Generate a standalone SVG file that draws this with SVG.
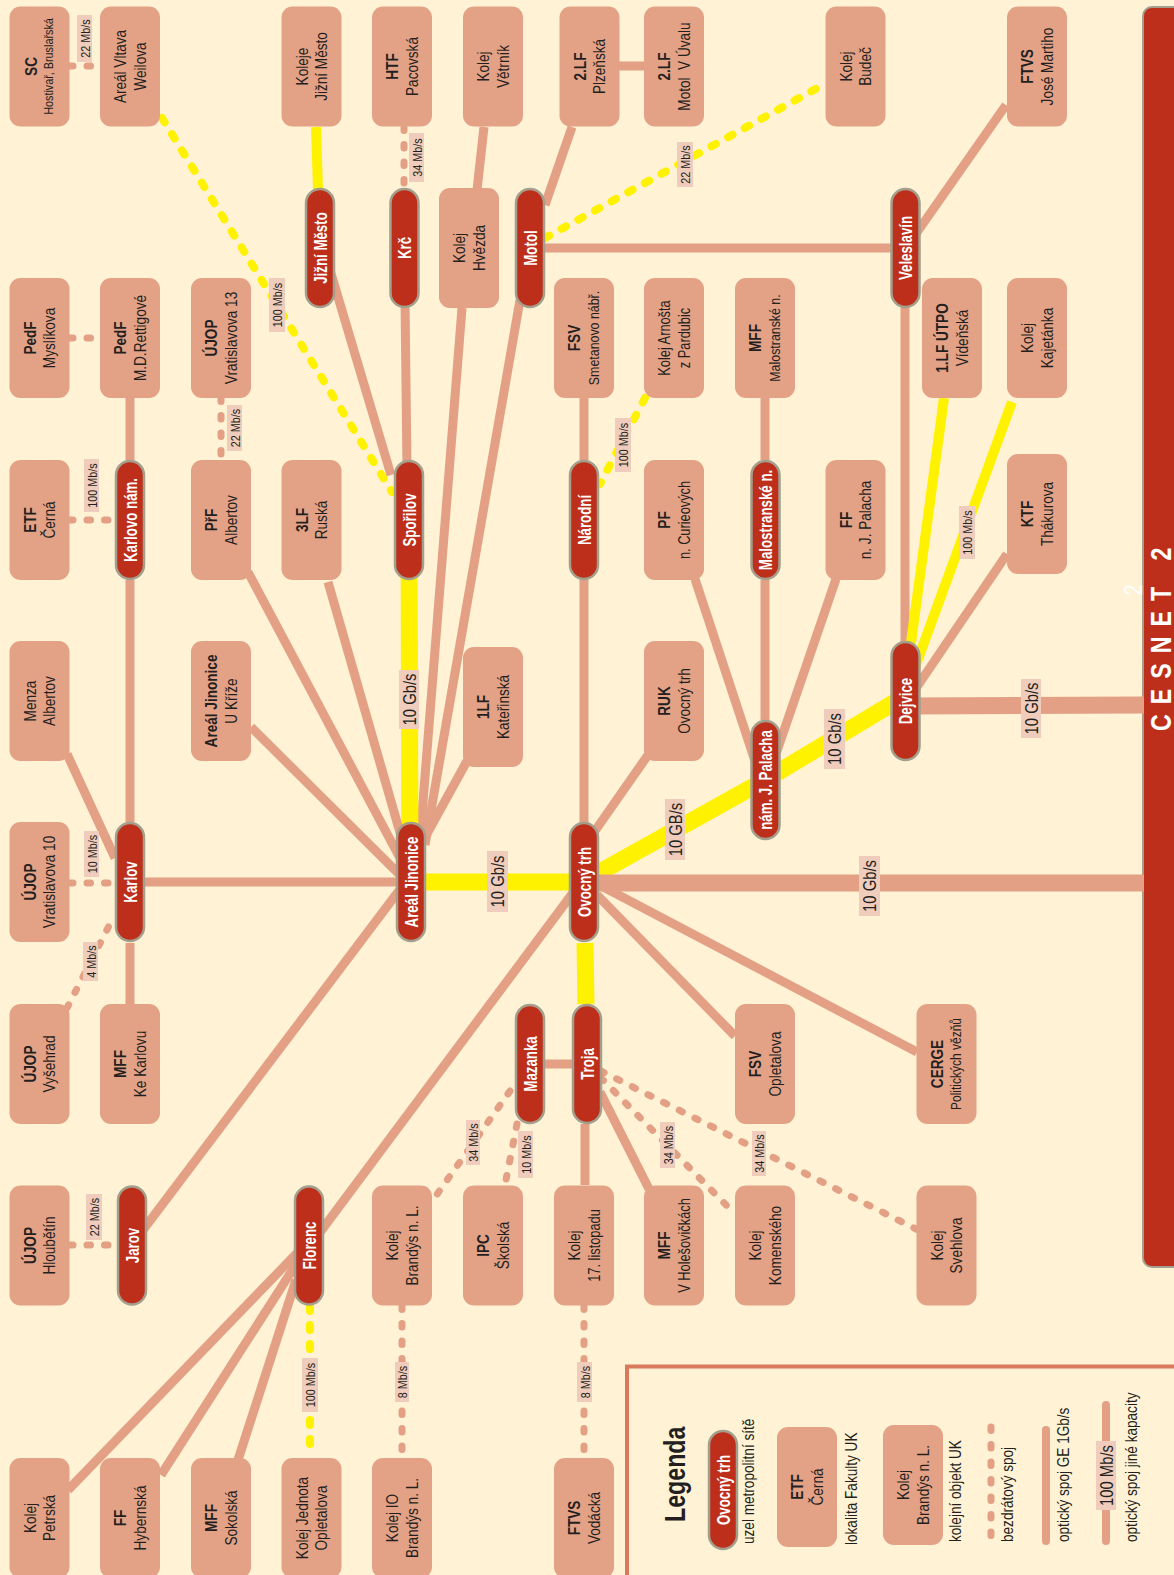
<svg xmlns="http://www.w3.org/2000/svg" width="1174" height="1575" viewBox="0 0 1174 1575">
<style>
.nt{font-family:"Liberation Sans",Arial,sans-serif;font-size:17px;fill:#231F20;text-anchor:middle}
.b{font-weight:bold}
.s135{font-size:13.5px}
.s15{font-size:15px}
.s155{font-size:15.5px}
.s16{font-size:16px}
.nb{fill:#E3A186}
.pb{fill:#BD2F1B;stroke:#A39F8C;stroke-width:2.5}
.pt{font-family:"Liberation Sans",Arial,sans-serif;font-size:19px;font-weight:bold;fill:#fff;text-anchor:middle}
.e{stroke:#E3A085;stroke-width:9;fill:none}
.et{stroke:#E3A085;stroke-width:17;fill:none}
.ed{stroke:#E3A085;stroke-width:7;stroke-dasharray:3.5 14;stroke-linecap:round;fill:none}
.y{stroke:#FFF200;stroke-width:10;fill:none}
.yt{stroke:#FFF200;stroke-width:17;fill:none}
.yd{stroke:#FFF200;stroke-width:8;stroke-dasharray:5 14;stroke-linecap:round;fill:none}
.lb{fill:#EFCCBB}
.lt{font-family:"Liberation Sans",Arial,sans-serif;font-size:13.5px;fill:#231F20;text-anchor:middle}
.lt2{font-size:18.5px}
.lg{font-family:"Liberation Sans",Arial,sans-serif;font-size:17px;fill:#231F20;text-anchor:start}
</style>
<rect x="0" y="0" width="1174" height="1575" fill="#FFF2D5"/>

<!-- CESNET bar -->
<g id="cesnet">
<rect x="1143" y="7" width="60" height="1260" rx="9" fill="#BD2F1B" stroke="#A39F8C" stroke-width="2"/>
<text transform="translate(1170.5,731) rotate(-90) scale(.8,1)" font-family="Liberation Sans,Arial,sans-serif" font-size="29" font-weight="bold" fill="#fff" letter-spacing="12.5">CESNET 2</text>
<text transform="translate(1142,590) rotate(-90) scale(.8,1)" font-family="Liberation Sans,Arial,sans-serif" font-size="25" fill="#fff" text-anchor="middle">2</text>
</g>

<g id="connectors">
<line class="ed" x1="69.5" y1="66" x2="100" y2="66"/>
<line class="yd" x1="162" y1="118" x2="392" y2="492"/>
<line class="y" x1="316" y1="127" x2="318" y2="190"/>
<line class="e" x1="324" y1="250" x2="391" y2="475"/>
<line class="ed" x1="404" y1="127" x2="404" y2="188"/>
<line class="e" x1="405" y1="300" x2="407" y2="470"/>
<line class="e" x1="484" y1="127" x2="477" y2="190"/>
<line class="e" x1="462" y1="308" x2="420" y2="840"/>
<line class="e" x1="572" y1="127" x2="545" y2="205"/>
<line class="e" x1="619" y1="66" x2="645" y2="66"/>
<line class="yd" x1="545" y1="238" x2="821" y2="86"/>
<line class="e" x1="530" y1="248" x2="905" y2="248"/>
<line class="e" x1="520" y1="300" x2="425" y2="845"/>
<line class="e" x1="906" y1="248" x2="1006" y2="105"/>
<line class="e" x1="905" y1="300" x2="905" y2="650"/>
<line class="y" x1="944" y1="398" x2="910" y2="650"/>
<line class="y" x1="1012" y1="402" x2="914" y2="670"/>
<line class="e" x1="1007" y1="554" x2="908" y2="700"/>
<line class="et" x1="905" y1="706" x2="1144" y2="705"/>
<line class="e" x1="836" y1="579" x2="767" y2="780"/>
<line class="e" x1="765" y1="580" x2="765" y2="720"/>
<line class="e" x1="765" y1="398" x2="765" y2="460"/>
<line class="e" x1="695" y1="579" x2="758" y2="770"/>
<line class="yt" x1="905" y1="696" x2="765" y2="780"/>
<line class="yt" x1="765" y1="780" x2="584" y2="881"/>
<line class="et" x1="584" y1="883" x2="1144" y2="883"/>
<line class="yt" x1="411" y1="882" x2="584" y2="882"/>
<line class="yt" x1="409" y1="520" x2="410" y2="882"/>
<line class="e" x1="584" y1="520" x2="584" y2="882"/>
<line class="e" x1="584" y1="398" x2="584" y2="460"/>
<line class="yd" x1="645" y1="398" x2="600" y2="484"/>
<line class="e" x1="648" y1="755" x2="590" y2="838"/>
<line class="e" x1="467" y1="761" x2="418" y2="850"/>
<line class="e" x1="248" y1="572" x2="401" y2="860"/>
<line class="e" x1="328" y1="582" x2="405" y2="850"/>
<line class="e" x1="251" y1="727" x2="400" y2="875"/>
<line class="e" x1="130" y1="398" x2="130" y2="460"/>
<line class="ed" x1="69.5" y1="520" x2="115" y2="520"/>
<line class="ed" x1="69.5" y1="338" x2="100" y2="338"/>
<line class="ed" x1="221" y1="398" x2="221" y2="460"/>
<line class="e" x1="130" y1="580" x2="130" y2="822"/>
<line class="e" x1="67" y1="754" x2="115" y2="858"/>
<line class="e" x1="130" y1="882" x2="411" y2="882"/>
<line class="ed" x1="69.5" y1="883" x2="115" y2="883"/>
<line class="ed" x1="67" y1="1008" x2="113" y2="918"/>
<line class="e" x1="130" y1="943" x2="130" y2="1004"/>
<line class="e" x1="407" y1="880" x2="143" y2="1230"/>
<line class="e" x1="575" y1="890" x2="318" y2="1235"/>
<line class="e" x1="300" y1="1250" x2="68" y2="1490"/>
<line class="e" x1="302" y1="1255" x2="161" y2="1475"/>
<line class="e" x1="296" y1="1280" x2="238" y2="1460"/>
<line class="yd" x1="310" y1="1306" x2="310" y2="1458"/>
<line class="ed" x1="69.5" y1="1245" x2="117" y2="1245"/>
<line class="yt" x1="585" y1="943" x2="586" y2="1004"/>
<line class="e" x1="544" y1="1064" x2="572" y2="1064"/>
<line class="e" x1="597" y1="895" x2="735" y2="1036"/>
<line class="e" x1="590" y1="880" x2="917" y2="1052"/>
<line class="e" x1="585" y1="1124" x2="585" y2="1185"/>
<line class="e" x1="600" y1="1092" x2="649" y2="1189"/>
<line class="ed" x1="601" y1="1078" x2="735" y2="1214"/>
<line class="ed" x1="601" y1="1071" x2="916" y2="1229"/>
<line class="ed" x1="510" y1="1091" x2="433" y2="1200"/>
<line class="ed" x1="517" y1="1124" x2="505" y2="1185"/>
<line class="ed" x1="402" y1="1306" x2="402" y2="1458"/>
<line class="ed" x1="584" y1="1306" x2="584" y2="1458"/>

<!-- labels -->
<rect class="lb" x="77" y="15" width="15" height="47"/><text class="lt" transform="translate(84.5,38.5) rotate(-90) scale(.8,1)" y="5">22 Mb/s</text>
<rect class="lb" x="269" y="278" width="16" height="54"/><text class="lt" transform="translate(277,305) rotate(-90) scale(.8,1)" y="5">100 Mb/s</text>
<rect class="lb" x="409" y="133" width="15" height="49"/><text class="lt" transform="translate(416.5,157.5) rotate(-90) scale(.8,1)" y="5">34 Mb/s</text>
<rect class="lb" x="677" y="142" width="16" height="45"/><text class="lt" transform="translate(685,164.5) rotate(-90) scale(.8,1)" y="5">22 Mb/s</text>
<rect class="lb" x="959" y="506" width="16" height="53"/><text class="lt" transform="translate(967,532.5) rotate(-90) scale(.8,1)" y="5">100 Mb/s</text>
<rect class="lb" x="1021" y="679" width="20" height="59"/><text class="lt lt2" transform="translate(1031,708.5) rotate(-90) scale(.8,1)" y="6.5">10 Gb/s</text>
<rect class="lb" x="824" y="709" width="21" height="60"/><text class="lt lt2" transform="translate(834.5,739) rotate(-90) scale(.8,1)" y="6.5">10 Gb/s</text>
<rect class="lb" x="665" y="799" width="20" height="61"/><text class="lt lt2" transform="translate(675,829.5) rotate(-90) scale(.8,1)" y="6.5">10 GB/s</text>
<rect class="lb" x="859" y="856" width="21" height="60"/><text class="lt lt2" transform="translate(869.5,886) rotate(-90) scale(.8,1)" y="6.5">10 Gb/s</text>
<rect class="lb" x="487" y="851" width="21" height="61"/><text class="lt lt2" transform="translate(497.5,881.5) rotate(-90) scale(.8,1)" y="6.5">10 Gb/s</text>
<rect class="lb" x="399" y="670" width="20" height="59"/><text class="lt lt2" transform="translate(409,699.5) rotate(-90) scale(.8,1)" y="6.5">10 Gb/s</text>
<rect class="lb" x="615" y="418" width="16" height="54"/><text class="lt" transform="translate(623,445) rotate(-90) scale(.8,1)" y="5">100 Mb/s</text>
<rect class="lb" x="84" y="459" width="15" height="53"/><text class="lt" transform="translate(91.5,485.5) rotate(-90) scale(.8,1)" y="5">100 Mb/s</text>
<rect class="lb" x="227" y="405" width="15" height="46"/><text class="lt" transform="translate(234.5,428) rotate(-90) scale(.8,1)" y="5">22 Mb/s</text>
<rect class="lb" x="84" y="831" width="15" height="46"/><text class="lt" transform="translate(91.5,854) rotate(-90) scale(.8,1)" y="5">10 Mb/s</text>
<rect class="lb" x="83" y="942" width="15" height="39"/><text class="lt" transform="translate(90.5,961.5) rotate(-90) scale(.8,1)" y="5">4 Mb/s</text>
<rect class="lb" x="302" y="1358" width="16" height="54"/><text class="lt" transform="translate(310,1385) rotate(-90) scale(.8,1)" y="5">100 Mb/s</text>
<rect class="lb" x="86" y="1194" width="16" height="46"/><text class="lt" transform="translate(94,1217) rotate(-90) scale(.8,1)" y="5">22 Mb/s</text>
<rect class="lb" x="660" y="1122" width="15" height="46"/><text class="lt" transform="translate(667.5,1145) rotate(-90) scale(.8,1)" y="5">34 Mb/s</text>
<rect class="lb" x="752" y="1131" width="14" height="45"/><text class="lt" transform="translate(759,1153.5) rotate(-90) scale(.8,1)" y="5">34 Mb/s</text>
<rect class="lb" x="466" y="1120" width="14" height="45"/><text class="lt" transform="translate(473,1142.5) rotate(-90) scale(.8,1)" y="5">34 Mb/s</text>
<rect class="lb" x="518" y="1131" width="15" height="47"/><text class="lt" transform="translate(525.5,1154.5) rotate(-90) scale(.8,1)" y="5">10 Mb/s</text>
<rect class="lb" x="395" y="1362" width="14" height="40"/><text class="lt" transform="translate(402,1382) rotate(-90) scale(.8,1)" y="5">8 Mb/s</text>
<rect class="lb" x="577" y="1362" width="15" height="40"/><text class="lt" transform="translate(584.5,1382) rotate(-90) scale(.8,1)" y="5">8 Mb/s</text>
</g>

<!-- nodes row 1 -->
<g id="n-sc"><rect class="nb" x="9.5" y="6.5" width="60" height="120" rx="11"/><text class="nt" transform="translate(39.5,66.5) rotate(-90) scale(.8,1)"><tspan class="b" x="0" y="-3">SC</tspan><tspan class="s135" x="0" y="14">Hostivař, Bruslařská</tspan></text></g>
<g id="n-vltava"><rect class="nb" x="100" y="6.5" width="60" height="120" rx="11"/><text class="nt" transform="translate(130,66.5) rotate(-90) scale(.8,1)"><tspan x="0" y="-4">Areál Vltava</tspan><tspan x="0" y="16">Weilova</tspan></text></g>
<g id="n-kjm"><rect class="nb" x="281.5" y="6.5" width="60" height="120" rx="11"/><text class="nt" transform="translate(311.5,66.5) rotate(-90) scale(.8,1)"><tspan x="0" y="-4">Koleje</tspan><tspan x="0" y="16">Jižní Město</tspan></text></g>
<g id="n-htf"><rect class="nb" x="372" y="6.5" width="60" height="120" rx="11"/><text class="nt" transform="translate(402,66.5) rotate(-90) scale(.8,1)"><tspan class="b" x="0" y="-4">HTF</tspan><tspan x="0" y="16">Pacovská</tspan></text></g>
<g id="n-vetrnik"><rect class="nb" x="463" y="6.5" width="60" height="120" rx="11"/><text class="nt" transform="translate(493,66.5) rotate(-90) scale(.8,1)"><tspan x="0" y="-4">Kolej</tspan><tspan x="0" y="16">Větrník</tspan></text></g>
<g id="n-2lfp"><rect class="nb" x="559.5" y="6.5" width="60" height="120" rx="11"/><text class="nt" transform="translate(589.5,66.5) rotate(-90) scale(.8,1)"><tspan class="b" x="0" y="-4">2.LF</tspan><tspan x="0" y="16">Plzeňská</tspan></text></g>
<g id="n-2lfm"><rect class="nb" x="644" y="6.5" width="60" height="120" rx="11"/><text class="nt" transform="translate(674,66.5) rotate(-90) scale(.8,1)"><tspan class="b" x="0" y="-4">2.LF</tspan><tspan x="0" y="16">Motol&#160; V Úvalu</tspan></text></g>
<g id="n-budec"><rect class="nb" x="825.5" y="6.5" width="60" height="120" rx="11"/><text class="nt" transform="translate(855.5,66.5) rotate(-90) scale(.8,1)"><tspan x="0" y="-4">Kolej</tspan><tspan x="0" y="16">Budeč</tspan></text></g>
<g id="n-ftvsjm"><rect class="nb" x="1007" y="6.5" width="60" height="120" rx="11"/><text class="nt" transform="translate(1037,66.5) rotate(-90) scale(.8,1)"><tspan class="b" x="0" y="-4">FTVS</tspan><tspan x="0" y="16">José Martiho</tspan></text></g>
<g id="n-hvezda"><rect class="nb" x="439" y="188" width="60" height="120" rx="11"/><text class="nt" transform="translate(469,248) rotate(-90) scale(.8,1)"><tspan x="0" y="-4">Kolej</tspan><tspan x="0" y="16">Hvězda</tspan></text></g>

<!-- row 2 -->
<g id="n-pedfm"><rect class="nb" x="9.5" y="278" width="60" height="120" rx="11"/><text class="nt" transform="translate(39.5,338) rotate(-90) scale(.8,1)"><tspan class="b" x="0" y="-4">PedF</tspan><tspan x="0" y="16">Myslíkova</tspan></text></g>
<g id="n-pedfr"><rect class="nb" x="100" y="278" width="60" height="120" rx="11"/><text class="nt" transform="translate(130,338) rotate(-90) scale(.8,1)"><tspan class="b" x="0" y="-4">PedF</tspan><tspan x="0" y="16">M.D.Rettigové</tspan></text></g>
<g id="n-ujop13"><rect class="nb" x="191" y="278" width="60" height="120" rx="11"/><text class="nt" transform="translate(221,338) rotate(-90) scale(.8,1)"><tspan class="b" x="0" y="-4">ÚJOP</tspan><tspan x="0" y="16">Vratislavova 13</tspan></text></g>
<g id="n-fsvs"><rect class="nb" x="554" y="278" width="60" height="120" rx="11"/><text class="nt" transform="translate(584,338) rotate(-90) scale(.8,1)"><tspan class="b" x="0" y="-4">FSV</tspan><tspan class="s155" x="0" y="15">Smetanovo nábř.</tspan></text></g>
<g id="n-arnost"><rect class="nb" x="644" y="278" width="60" height="120" rx="11"/><text class="nt s16" transform="translate(674,338) rotate(-90) scale(.8,1)"><tspan x="0" y="-4">Kolej Arnošta</tspan><tspan x="0" y="16">z Pardubic</tspan></text></g>
<g id="n-mffm"><rect class="nb" x="735" y="278" width="60" height="120" rx="11"/><text class="nt" transform="translate(765,338) rotate(-90) scale(.8,1)"><tspan class="b" x="0" y="-4">MFF</tspan><tspan class="s155" x="0" y="15">Malostranské n.</tspan></text></g>
<g id="n-1lfu"><rect class="nb" x="922" y="278" width="60" height="120" rx="11"/><text class="nt" transform="translate(952,338) rotate(-90) scale(.8,1)"><tspan class="b" x="0" y="-4">1.LF ÚTPO</tspan><tspan x="0" y="16">Vídeňská</tspan></text></g>
<g id="n-kajet"><rect class="nb" x="1007" y="278" width="60" height="120" rx="11"/><text class="nt" transform="translate(1037,338) rotate(-90) scale(.8,1)"><tspan x="0" y="-4">Kolej</tspan><tspan x="0" y="16">Kajetánka</tspan></text></g>

<!-- row 3 -->
<g id="n-etf"><rect class="nb" x="9.5" y="460" width="60" height="120" rx="11"/><text class="nt" transform="translate(39.5,520) rotate(-90) scale(.8,1)"><tspan class="b" x="0" y="-4">ETF</tspan><tspan x="0" y="16">Černá</tspan></text></g>
<g id="n-prf"><rect class="nb" x="191" y="460" width="60" height="120" rx="11"/><text class="nt" transform="translate(221,520) rotate(-90) scale(.8,1)"><tspan class="b" x="0" y="-4">PřF</tspan><tspan x="0" y="16">Albertov</tspan></text></g>
<g id="n-3lf"><rect class="nb" x="281.5" y="460" width="60" height="120" rx="11"/><text class="nt" transform="translate(311.5,520) rotate(-90) scale(.8,1)"><tspan class="b" x="0" y="-4">3LF</tspan><tspan x="0" y="16">Ruská</tspan></text></g>
<g id="n-pf"><rect class="nb" x="644" y="460" width="60" height="120" rx="11"/><text class="nt" transform="translate(674,520) rotate(-90) scale(.8,1)"><tspan class="b" x="0" y="-4">PF</tspan><tspan class="s16" x="0" y="16">n. Curieových</tspan></text></g>
<g id="n-ff"><rect class="nb" x="825.5" y="460" width="60" height="120" rx="11"/><text class="nt" transform="translate(855.5,520) rotate(-90) scale(.8,1)"><tspan class="b" x="0" y="-4">FF</tspan><tspan x="0" y="16">n. J. Palacha</tspan></text></g>
<g id="n-ktf"><rect class="nb" x="1007" y="454" width="60" height="120" rx="11"/><text class="nt" transform="translate(1037,514) rotate(-90) scale(.8,1)"><tspan class="b" x="0" y="-4">KTF</tspan><tspan x="0" y="16">Thákurova</tspan></text></g>

<!-- row 4 -->
<g id="n-menza"><rect class="nb" x="9.5" y="641" width="60" height="120" rx="11"/><text class="nt" transform="translate(39.5,701) rotate(-90) scale(.8,1)"><tspan x="0" y="-4">Menza</tspan><tspan x="0" y="16">Albertov</tspan></text></g>
<g id="n-ajuk"><rect class="nb" x="191" y="641" width="60" height="120" rx="11"/><text class="nt" transform="translate(221,701) rotate(-90) scale(.8,1)"><tspan class="b" x="0" y="-4">Areál Jinonice</tspan><tspan x="0" y="16">U Kříže</tspan></text></g>
<g id="n-1lfk"><rect class="nb" x="463" y="647" width="60" height="120" rx="11"/><text class="nt" transform="translate(493,707) rotate(-90) scale(.8,1)"><tspan class="b" x="0" y="-4">1LF</tspan><tspan x="0" y="16">Kateřinská</tspan></text></g>
<g id="n-ruk"><rect class="nb" x="644" y="641" width="60" height="120" rx="11"/><text class="nt" transform="translate(674,701) rotate(-90) scale(.8,1)"><tspan class="b" x="0" y="-4">RUK</tspan><tspan x="0" y="16">Ovocný trh</tspan></text></g>

<!-- row 5-6 -->
<g id="n-ujop10"><rect class="nb" x="9.5" y="822" width="60" height="120" rx="11"/><text class="nt" transform="translate(39.5,882) rotate(-90) scale(.8,1)"><tspan class="b" x="0" y="-4">ÚJOP</tspan><tspan x="0" y="16">Vratislavova 10</tspan></text></g>
<g id="n-ujopv"><rect class="nb" x="9.5" y="1004" width="60" height="120" rx="11"/><text class="nt" transform="translate(39.5,1064) rotate(-90) scale(.8,1)"><tspan class="b" x="0" y="-4">ÚJOP</tspan><tspan x="0" y="16">Vyšehrad</tspan></text></g>
<g id="n-mffk"><rect class="nb" x="100" y="1004" width="60" height="120" rx="11"/><text class="nt" transform="translate(130,1064) rotate(-90) scale(.8,1)"><tspan class="b" x="0" y="-4">MFF</tspan><tspan x="0" y="16">Ke Karlovu</tspan></text></g>
<g id="n-fsvo"><rect class="nb" x="735" y="1004" width="60" height="120" rx="11"/><text class="nt" transform="translate(765,1064) rotate(-90) scale(.8,1)"><tspan class="b" x="0" y="-4">FSV</tspan><tspan x="0" y="16">Opletalova</tspan></text></g>
<g id="n-cerge"><rect class="nb" x="916.5" y="1004" width="60" height="120" rx="11"/><text class="nt" transform="translate(946.5,1064) rotate(-90) scale(.8,1)"><tspan class="b" x="0" y="-4">CERGE</tspan><tspan class="s15" x="0" y="15">Politických vězňů</tspan></text></g>

<!-- row 7 -->
<g id="n-ujoph"><rect class="nb" x="9.5" y="1185.5" width="60" height="120" rx="11"/><text class="nt" transform="translate(39.5,1245.5) rotate(-90) scale(.8,1)"><tspan class="b" x="0" y="-4">ÚJOP</tspan><tspan x="0" y="16">Hloubětín</tspan></text></g>
<g id="n-kbrandys"><rect class="nb" x="372" y="1185.5" width="60" height="120" rx="11"/><text class="nt" transform="translate(402,1245.5) rotate(-90) scale(.8,1)"><tspan x="0" y="-4">Kolej</tspan><tspan x="0" y="16">Brandýs n. L.</tspan></text></g>
<g id="n-ipc"><rect class="nb" x="463" y="1185.5" width="60" height="120" rx="11"/><text class="nt" transform="translate(493,1245.5) rotate(-90) scale(.8,1)"><tspan class="b" x="0" y="-4">IPC</tspan><tspan x="0" y="16">Školská</tspan></text></g>
<g id="n-k17"><rect class="nb" x="554" y="1185.5" width="60" height="120" rx="11"/><text class="nt" transform="translate(584,1245.5) rotate(-90) scale(.8,1)"><tspan x="0" y="-4">Kolej</tspan><tspan class="s16" x="0" y="16">17. listopadu</tspan></text></g>
<g id="n-mffh"><rect class="nb" x="644" y="1185.5" width="60" height="120" rx="11"/><text class="nt" transform="translate(674,1245.5) rotate(-90) scale(.8,1)"><tspan class="b" x="0" y="-4">MFF</tspan><tspan class="s16" x="0" y="16">V Holešovičkách</tspan></text></g>
<g id="n-komen"><rect class="nb" x="735" y="1185.5" width="60" height="120" rx="11"/><text class="nt" transform="translate(765,1245.5) rotate(-90) scale(.8,1)"><tspan x="0" y="-4">Kolej</tspan><tspan x="0" y="16">Komenského</tspan></text></g>
<g id="n-svehl"><rect class="nb" x="916.5" y="1185.5" width="60" height="120" rx="11"/><text class="nt" transform="translate(946.5,1245.5) rotate(-90) scale(.8,1)"><tspan x="0" y="-4">Kolej</tspan><tspan x="0" y="16">Svehlova</tspan></text></g>

<!-- row 8 -->
<g id="n-petrska"><rect class="nb" x="9.5" y="1458" width="60" height="120" rx="11"/><text class="nt" transform="translate(39.5,1518) rotate(-90) scale(.8,1)"><tspan x="0" y="-4">Kolej</tspan><tspan x="0" y="16">Petrská</tspan></text></g>
<g id="n-hyb"><rect class="nb" x="100" y="1458" width="60" height="120" rx="11"/><text class="nt" transform="translate(130,1518) rotate(-90) scale(.8,1)"><tspan class="b" x="0" y="-4">FF</tspan><tspan x="0" y="16">Hybernská</tspan></text></g>
<g id="n-sokol"><rect class="nb" x="191" y="1458" width="60" height="120" rx="11"/><text class="nt" transform="translate(221,1518) rotate(-90) scale(.8,1)"><tspan class="b" x="0" y="-4">MFF</tspan><tspan x="0" y="16">Sokolská</tspan></text></g>
<g id="n-jednota"><rect class="nb" x="281.5" y="1458" width="60" height="120" rx="11"/><text class="nt" transform="translate(311.5,1518) rotate(-90) scale(.8,1)"><tspan x="0" y="-4">Kolej Jednota</tspan><tspan x="0" y="16">Opletalova</tspan></text></g>
<g id="n-kio"><rect class="nb" x="372" y="1458" width="60" height="120" rx="11"/><text class="nt" transform="translate(402,1518) rotate(-90) scale(.8,1)"><tspan x="0" y="-4">Kolej IO</tspan><tspan x="0" y="16">Brandýs n. L.</tspan></text></g>
<g id="n-ftvsv"><rect class="nb" x="554" y="1458" width="60" height="120" rx="11"/><text class="nt" transform="translate(584,1518) rotate(-90) scale(.8,1)"><tspan class="b" x="0" y="-4">FTVS</tspan><tspan x="0" y="16">Vodácká</tspan></text></g>

<!-- pills -->
<g id="p-jm"><rect class="pb" x="306" y="189" width="28" height="118" rx="14"/><text class="pt" transform="translate(320,248) rotate(-90) scale(.7,1)" y="6.5">Jižní Město</text></g>
<g id="p-krc"><rect class="pb" x="390.5" y="189" width="28" height="118" rx="14"/><text class="pt" transform="translate(404.5,248) rotate(-90) scale(.7,1)" y="6.5">Krč</text></g>
<g id="p-motol"><rect class="pb" x="516" y="189" width="28" height="118" rx="14"/><text class="pt" transform="translate(530,248) rotate(-90) scale(.7,1)" y="6.5">Motol</text></g>
<g id="p-veles"><rect class="pb" x="891.5" y="189" width="28" height="118" rx="14"/><text class="pt" transform="translate(905.5,248) rotate(-90) scale(.7,1)" y="6.5">Veleslavín</text></g>
<g id="p-karlnam"><rect class="pb" x="116" y="461" width="28" height="118" rx="14"/><text class="pt" transform="translate(130,520) rotate(-90) scale(.7,1)" y="6.5">Karlovo nám.</text></g>
<g id="p-sporilov"><rect class="pb" x="395" y="461" width="28" height="118" rx="14"/><text class="pt" transform="translate(409,520) rotate(-90) scale(.7,1)" y="6.5">Spořilov</text></g>
<g id="p-narodni"><rect class="pb" x="570" y="461" width="28" height="118" rx="14"/><text class="pt" transform="translate(584,520) rotate(-90) scale(.7,1)" y="6.5">Národní</text></g>
<g id="p-malostr"><rect class="pb" x="751.5" y="461" width="28" height="118" rx="14"/><text class="pt" transform="translate(765.5,520) rotate(-90) scale(.7,1)" y="6.5">Malostranské n.</text></g>
<g id="p-njp"><rect class="pb" x="751.5" y="721" width="28" height="118" rx="14"/><text class="pt" transform="translate(765.5,780) rotate(-90) scale(.7,1)" y="6.5">nám. J. Palacha</text></g>
<g id="p-dejvice"><rect class="pb" x="891.5" y="642" width="28" height="118" rx="14"/><text class="pt" transform="translate(905.5,701) rotate(-90) scale(.7,1)" y="6.5">Dejvice</text></g>
<g id="p-karlov"><rect class="pb" x="116" y="823" width="28" height="118" rx="14"/><text class="pt" transform="translate(130,882) rotate(-90) scale(.7,1)" y="6.5">Karlov</text></g>
<g id="p-jinonice"><rect class="pb" x="397" y="823" width="28" height="118" rx="14"/><text class="pt" transform="translate(411,882) rotate(-90) scale(.7,1)" y="6.5">Areál Jinonice</text></g>
<g id="p-ovocny"><rect class="pb" x="570" y="823" width="28" height="118" rx="14"/><text class="pt" transform="translate(584,882) rotate(-90) scale(.7,1)" y="6.5">Ovocný trh</text></g>
<g id="p-mazanka"><rect class="pb" x="516" y="1005" width="28" height="118" rx="14"/><text class="pt" transform="translate(530,1064) rotate(-90) scale(.7,1)" y="6.5">Mazanka</text></g>
<g id="p-troja"><rect class="pb" x="573" y="1005" width="28" height="118" rx="14"/><text class="pt" transform="translate(587,1064) rotate(-90) scale(.7,1)" y="6.5">Troja</text></g>
<g id="p-jarov"><rect class="pb" x="118" y="1186.5" width="28" height="118" rx="14"/><text class="pt" transform="translate(132,1245.5) rotate(-90) scale(.7,1)" y="6.5">Jarov</text></g>
<g id="p-florenc"><rect class="pb" x="295" y="1186.5" width="28" height="118" rx="14"/><text class="pt" transform="translate(309,1245.5) rotate(-90) scale(.7,1)" y="6.5">Florenc</text></g>

<!-- legend -->
<g id="legend">
<path d="M627,1580 V1366.5 H1180" fill="none" stroke="#D87A5B" stroke-width="4"/>
<text transform="translate(685,1522) rotate(-90) scale(.8,1)" font-family="Liberation Sans,Arial,sans-serif" font-size="29" font-weight="bold" fill="#231F20">Legenda</text>
<rect class="pb" x="709" y="1431" width="28" height="118" rx="14"/><text class="pt" transform="translate(723,1490) rotate(-90) scale(.7,1)" y="6.5">Ovocný trh</text>
<text class="lg" transform="translate(754,1544) rotate(-90) scale(.8,1)">uzel metropolitní sítě</text>
<rect class="nb" x="777" y="1427" width="60" height="120" rx="11"/><text class="nt" transform="translate(807,1487) rotate(-90) scale(.8,1)"><tspan class="b" x="0" y="-4">ETF</tspan><tspan x="0" y="16">Černá</tspan></text>
<text class="lg" transform="translate(857,1545) rotate(-90) scale(.8,1)">lokalita Fakulty UK</text>
<rect class="nb" x="883" y="1425" width="60" height="120" rx="11"/><text class="nt" transform="translate(913,1485) rotate(-90) scale(.8,1)"><tspan x="0" y="-4">Kolej</tspan><tspan x="0" y="16">Brandýs n. L.</tspan></text>
<text class="lg" transform="translate(961,1542) rotate(-90) scale(.8,1)">kolejní objekt UK</text>
<line class="ed" x1="991" y1="1427" x2="991" y2="1540"/>
<text class="lg" transform="translate(1013,1542) rotate(-90) scale(.8,1)">bezdrátový spoj</text>
<line x1="1046" y1="1430" x2="1046" y2="1541" stroke="#E3A085" stroke-width="8" stroke-linecap="round"/>
<text class="lg" transform="translate(1069,1542) rotate(-90) scale(.8,1)">optický spoj GE 1Gb/s</text>
<line x1="1106" y1="1405" x2="1106" y2="1541" stroke="#E3A085" stroke-width="8" stroke-linecap="round"/>
<rect class="lb" x="1096" y="1441" width="20" height="69"/><text class="lt lt2" transform="translate(1106,1475.5) rotate(-90) scale(.8,1)" y="6.5">100 Mb/s</text>
<text class="lg" transform="translate(1137,1542) rotate(-90) scale(.8,1)">optický spoj jiné kapacity</text>
</g>
</svg>
